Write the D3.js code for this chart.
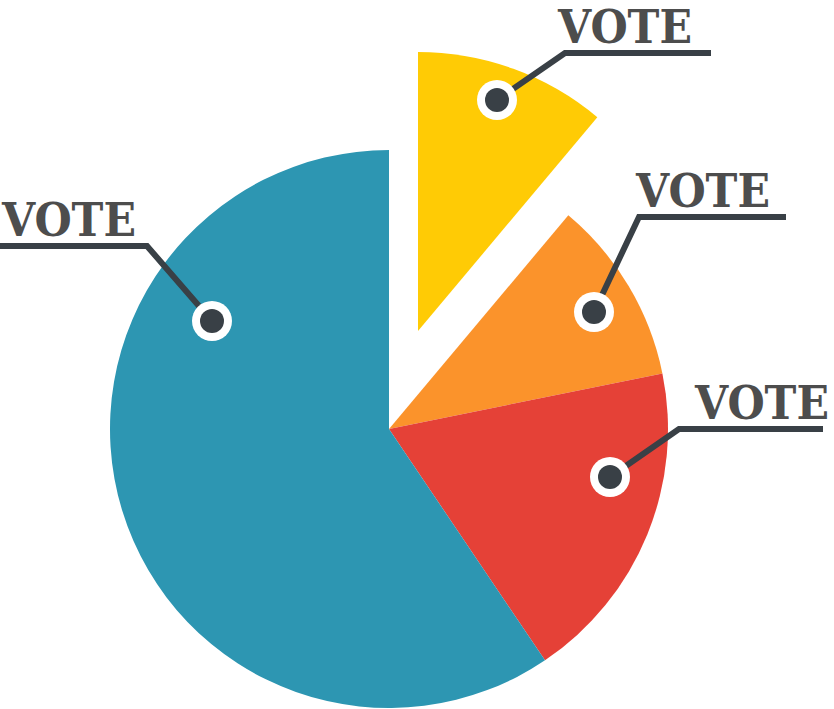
<!DOCTYPE html>
<html><head><meta charset="utf-8">
<script src="https://cdn.jsdelivr.net/npm/d3@7"></script>
<style>html,body{margin:0;padding:0;background:#fff;overflow:hidden}</style>
</head><body>
<svg id="chart" width="834" height="709"></svg>
<script>
// Data
const categories = ["Yellow", "Orange", "Red", "Blue"];
const values = [40, 38.5, 67.5, 214];
const labels = ["VOTE", "VOTE", "VOTE", "VOTE"];
const colors = ["#ffcb05", "#fb932b", "#e54137", "#2d96b2"];

// Layout
const W = 834, H = 709;
const cx = 389, cy = 429, R = 279;
const explode = [[29, -98], [0, 0], [0, 0], [0, 0]];
// leader: dot (relative to pie centre), elbow, line end, text start
const leaders = [
  {dot: [108, -329], elbow: [176, -376], end: [322, -376], textX: 169},
  {dot: [205, -117], elbow: [250, -212], end: [397, -212], textX: 247},
  {dot: [221, 48], elbow: [290, 0], end: [434, 0], textX: 306},
  {dot: [-177, -108], elbow: [-242, -183], end: [-389, -183], textX: -387}
];
const textWidth = 134;

const svg = d3.select("#chart");
const g = svg.append("g").attr("transform", `translate(${cx},${cy})`);

const pie = d3.pie().sort(null).value(d => d).startAngle(0).endAngle(2 * Math.PI);
const arc = d3.arc().innerRadius(0).outerRadius(R);
const arcs = pie(values);

g.selectAll("path.slice").data(arcs).join("path")
  .attr("class", "slice")
  .attr("d", arc)
  .attr("fill", (d, i) => colors[i])
  .attr("transform", (d, i) => `translate(${explode[i][0]},${explode[i][1]})`);

const dark = "#394046";
const lg = g.selectAll("g.leader").data(leaders).join("g").attr("class", "leader");
lg.append("polyline")
  .attr("points", d => [d.dot, d.elbow, d.end].map(p => p.join(",")).join(" "))
  .attr("fill", "none").attr("stroke", dark).attr("stroke-width", 6)
  .attr("stroke-linejoin", "miter");
lg.append("circle").attr("cx", d => d.dot[0]).attr("cy", d => d.dot[1]).attr("r", 20).attr("fill", "#fff");
lg.append("circle").attr("cx", d => d.dot[0]).attr("cy", d => d.dot[1]).attr("r", 12).attr("fill", dark);
lg.append("text")
  .attr("x", 0)
  .attr("y", 0)
  .attr("text-anchor", "start")
  .attr("font-family", "'DejaVu Serif', serif")
  .attr("font-weight", "bold")
  .attr("font-size", 46)
  .attr("fill", "#4d4d4d")
  .text((d, i) => labels[i])
  .each(function(d) {
    const w = this.getComputedTextLength();
    const sx = textWidth / w;
    d3.select(this).attr("transform", `translate(${d.textX},${d.elbow[1] - 10}) scale(${sx},1)`);
  });
</script>
</body></html>
